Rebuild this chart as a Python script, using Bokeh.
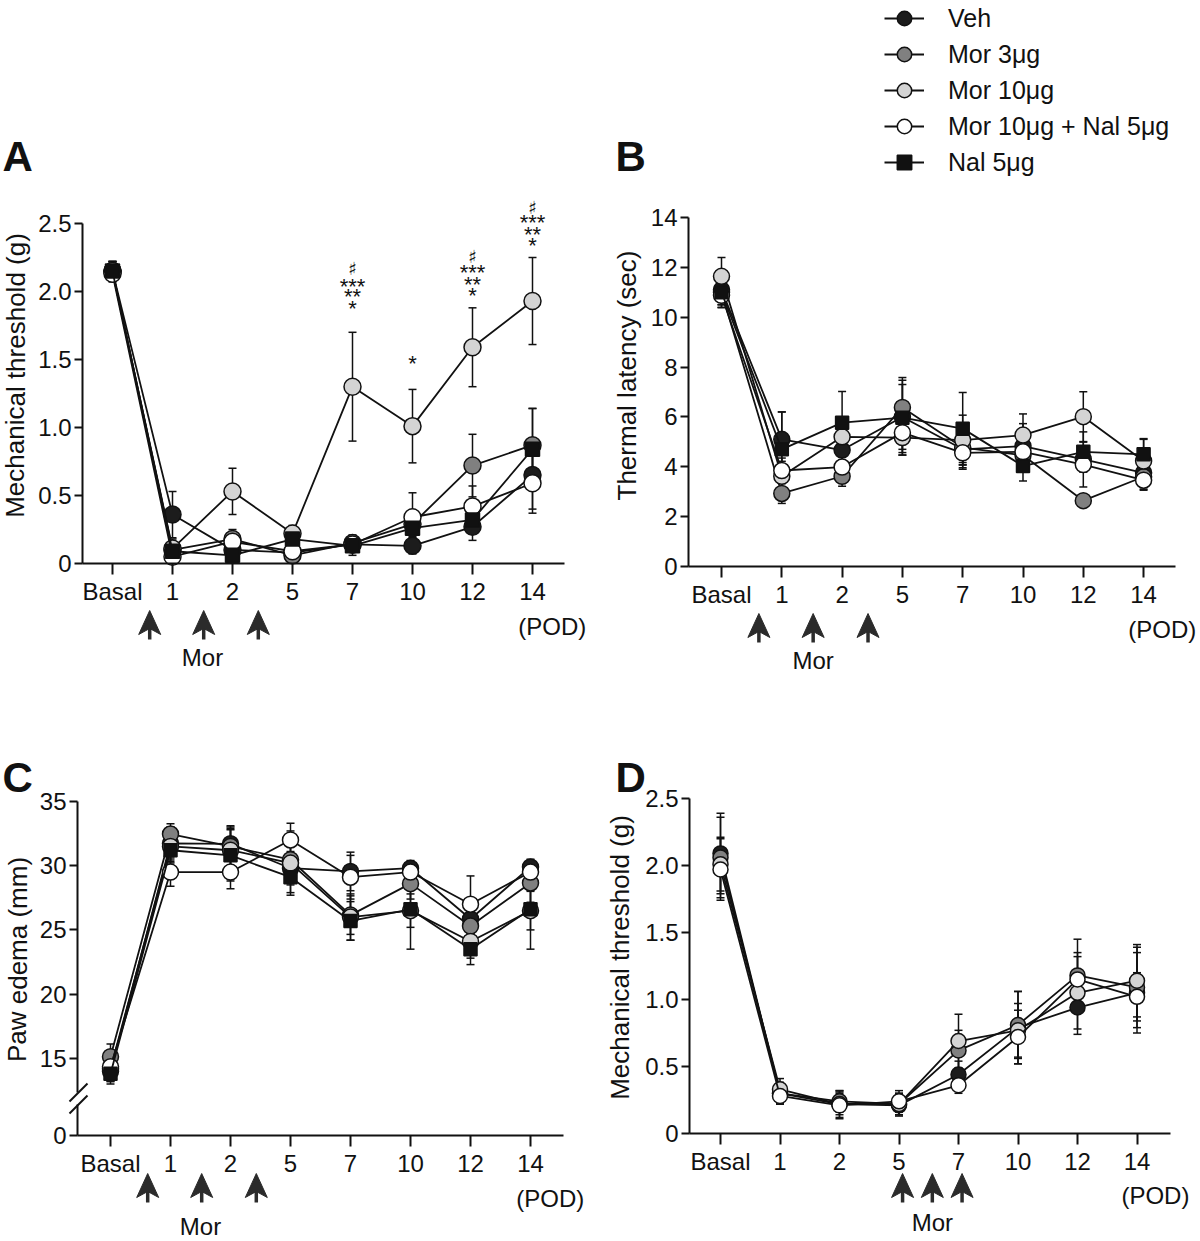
from bokeh.plotting import figure
from bokeh.layouts import row, column
from bokeh.models import (ColumnDataSource, FixedTicker, Whisker, TeeHead, Label,
                          Arrow, Legend, LegendItem)
from bokeh.embed import file_html
from bokeh.resources import INLINE

FONT = "Liberation Sans"
INK = "#111111"
ARROW_INK = "#2b2b2b"

# ---------------- data ----------------
day_labels = ["Basal", "1", "2", "5", "7", "10", "12", "14"]
day_pos = [0, 1, 2, 3, 4, 5, 6, 7]
group_names = ["Veh", "Mor 3μg", "Mor 10μg", "Mor 10μg + Nal 5μg", "Nal 5μg"]

# Panel A: mechanical threshold (g)
a_veh = [2.15, 0.36, 0.10, 0.08, 0.14, 0.13, 0.27, 0.65]
a_mor3 = [2.15, 0.10, 0.18, 0.06, 0.15, 0.29, 0.72, 0.87]
a_mor10 = [2.15, 0.11, 0.53, 0.22, 1.30, 1.01, 1.59, 1.93]
a_mornal = [2.13, 0.05, 0.16, 0.09, 0.14, 0.34, 0.42, 0.59]
a_nal = [2.15, 0.09, 0.06, 0.18, 0.13, 0.26, 0.32, 0.84]
a_veh_sem = [0.07, 0.17, 0.05, 0.03, 0.05, 0.06, 0.10, 0.25]
a_mor3_sem = [0.07, 0.08, 0.07, 0.03, 0.06, 0.06, 0.23, 0.27]
a_mor10_sem = [0.07, 0.05, 0.17, 0.06, 0.40, 0.27, 0.29, 0.32]
a_mornal_sem = [0.06, 0.04, 0.06, 0.04, 0.05, 0.18, 0.15, 0.22]
a_nal_sem = [0.07, 0.05, 0.03, 0.05, 0.07, 0.06, 0.08, 0.30]

# significance marks in panel A
sig_day = [4, 4, 4, 4, 5, 6, 6, 6, 6, 7, 7, 7, 7]
sig_text = ["♯", "***", "**", "*", "*", "♯", "***", "**", "*", "♯", "***", "**", "*"]
sig_y = [2.184, 2.059, 1.985, 1.897, 1.489, 2.272, 2.162, 2.074, 1.993, 2.632, 2.529, 2.441, 2.360]

# Panel B: thermal latency (sec)
b_veh = [11.1, 5.10, 4.67, 6.00, 4.70, 4.83, 4.30, 3.76]
b_mor3 = [11.0, 2.93, 3.62, 6.38, 4.77, 4.46, 2.64, 3.60]
b_mor10 = [11.64, 3.62, 5.20, 5.17, 5.07, 5.27, 6.01, 4.23]
b_mornal = [10.88, 3.85, 3.99, 5.37, 4.56, 4.60, 4.09, 3.46]
b_nal = [11.0, 4.70, 5.77, 5.97, 5.53, 4.03, 4.60, 4.50]
b_veh_sem = [0.6, 1.1, 0.4, 1.3, 0.8, 0.9, 0.5, 0.4]
b_mor3_sem = [0.6, 0.4, 0.4, 1.2, 0.6, 0.6, 0.2, 0.5]
b_mor10_sem = [0.75, 0.6, 0.7, 0.7, 1.0, 0.85, 1.0, 0.9]
b_mornal_sem = [0.5, 0.5, 0.6, 0.8, 0.6, 0.6, 0.9, 0.4]
b_nal_sem = [0.5, 1.5, 1.25, 1.5, 1.45, 0.6, 0.8, 0.6]

# Panel C: paw edema (mm)
c_veh = [14.0, 31.73, 31.7, 29.8, 29.55, 29.8, 25.85, 29.9]
c_mor3 = [15.13, 32.46, 31.5, 30.46, 26.15, 28.6, 25.3, 28.65]
c_mor10 = [14.2, 31.5, 31.2, 30.2, 26.0, 26.5, 24.1, 26.5]
c_mornal = [14.35, 29.5, 29.5, 32.0, 29.1, 29.5, 27.0, 29.5]
c_nal = [13.8, 31.2, 30.8, 29.1, 25.7, 26.6, 23.5, 26.6]
c_veh_sem = [0.8, 1.3, 1.3, 1.3, 1.5, 0.6, 0.7, 0.6]
c_mor3_sem = [1.0, 0.8, 1.6, 1.5, 1.5, 1.2, 0.9, 1.5]
c_mor10_sem = [1.0, 1.2, 1.7, 2.5, 1.8, 1.3, 1.3, 1.5]
c_mornal_sem = [0.9, 1.1, 1.3, 1.3, 1.7, 0.6, 2.2, 0.8]
c_nal_sem = [0.8, 1.0, 2.0, 1.2, 1.5, 3.1, 1.2, 3.1]

# Panel D: mechanical threshold (g), morphine on POD 5-7
d_veh = [2.09, 0.30, 0.22, 0.21, 0.44, 0.79, 0.94, 1.05]
d_mor3 = [2.06, 0.30, 0.24, 0.22, 0.62, 0.81, 1.18, 1.09]
d_mor10 = [2.01, 0.33, 0.22, 0.22, 0.69, 0.77, 1.05, 1.14]
d_mornal = [1.97, 0.28, 0.21, 0.24, 0.36, 0.72, 1.15, 1.02]
d_veh_sem = [0.30, 0.08, 0.10, 0.08, 0.10, 0.27, 0.20, 0.30]
d_mor3_sem = [0.30, 0.08, 0.08, 0.08, 0.15, 0.25, 0.27, 0.30]
d_mor10_sem = [0.20, 0.08, 0.08, 0.08, 0.20, 0.20, 0.27, 0.27]
d_mornal_sem = [0.23, 0.06, 0.10, 0.08, 0.06, 0.20, 0.20, 0.18]

# morphine injection times (in day-axis units)
mor_early = [0.62, 1.52, 2.43]
mor_late = [3.06, 3.56, 4.06]

# ---------------- style ----------------
FILLS = ["#1c1c1c", "#808080", "#d4d4d4", "#ffffff", "#111111"]
MARKERS = ["circle", "circle", "circle", "circle", "square"]


def make_panel(fx, fy, W, H, basal_x, sp, ax_x, ax_end, ax_y, ppu, y0, ytop,
               yticks, yover, means, sems, msize):
    """fx, fy, W, H: figure box in page px; the frame fills the whole figure."""
    X = lambda px: (px - basal_x) / sp
    Y = lambda py: y0 + (ax_y - py) / ppu
    p = figure(width=W, height=H, x_range=(X(fx), X(fx + W)), y_range=(Y(fy + H), Y(fy)),
               output_backend="svg", toolbar_location=None, title_location=None,
               min_border_left=0, min_border_right=0, min_border_top=0, min_border_bottom=0)
    p.outline_line_color = None
    p.grid.visible = False
    xa = p.xaxis[0]
    ya = p.yaxis[0]
    xa.fixed_location = y0
    ya.fixed_location = X(ax_x)
    xa.bounds = (X(ax_x), X(ax_end))
    ya.bounds = (y0, ytop)
    xa.ticker = FixedTicker(ticks=day_pos)
    xa.major_label_overrides = {i: l for i, l in zip(day_pos, day_labels)}
    ya.ticker = FixedTicker(ticks=yticks)
    ya.major_label_overrides = yover
    for ax in (xa, ya):
        ax.axis_line_width = 2
        ax.axis_line_color = INK
        ax.major_tick_line_width = 2
        ax.major_tick_line_color = INK
        ax.major_tick_in = 0
        ax.minor_tick_line_color = None
        ax.major_label_text_font = FONT
        ax.major_label_text_font_size = "24px"
        ax.major_label_text_color = INK
    xa.major_tick_out = 11
    xa.major_label_standoff = 3
    ya.major_tick_out = 8
    ya.major_label_standoff = 3
    rends = []
    for k, (m, e) in enumerate(zip(means, sems)):
        src = ColumnDataSource(dict(x=day_pos, y=m,
                                    lo=[a - b for a, b in zip(m, e)],
                                    hi=[a + b for a, b in zip(m, e)]))
        p.add_layout(Whisker(source=src, base="x", upper="hi", lower="lo",
                             line_width=1.5, line_color=INK,
                             upper_head=TeeHead(size=8, line_width=1.5, line_color=INK),
                             lower_head=TeeHead(size=8, line_width=1.5, line_color=INK)))
        lr = p.line("x", "y", source=src, line_color=INK, line_width=1.8)
        sz = msize if MARKERS[k] == "circle" else msize - 3
        sr = p.scatter("x", "y", source=src, marker=MARKERS[k], size=sz,
                       fill_color=FILLS[k], line_color=INK, line_width=1.5)
        rends.append((lr, sr))
    return p, rends, X, Y


def text(p, x, y, t, size, align="center", baseline="middle", bold=False, angle=0, font=FONT):
    p.add_layout(Label(x=x, y=y, text=t, text_font=font, text_font_size=f"{size}px",
                       text_align=align, text_baseline=baseline, angle=angle,
                       text_font_style="bold" if bold else "normal", text_color=INK))


def arrows(p, xs, sp, Y, ax_y, tip):
    """Notched filled arrowheads with short shafts below the x axis."""
    hw = 11 / sp
    heads_x = [[x, x + hw, x, x - hw] for x in xs]
    heads_y = [[Y(ax_y + tip), Y(ax_y + tip + 24), Y(ax_y + tip + 18), Y(ax_y + tip + 24)]
               for _ in xs]
    p.segment(x0=xs, y0=[Y(ax_y + tip + 12)] * len(xs), x1=xs, y1=[Y(ax_y + tip + 29)] * len(xs),
              line_width=3.5, line_color=ARROW_INK)
    p.patches(heads_x, heads_y, fill_color=ARROW_INK, line_color=ARROW_INK, line_width=1)


def decorate(p, X, Y, sp, letter, lx, ly, title, tx, ty, ax_y, arrow_x, tip, mor_x, mor_dy,
             pod_x, pod_dy):
    text(p, X(lx), Y(ly), letter, 42, align="left", baseline="alphabetic", bold=True)
    text(p, X(tx), Y(ty), title, 26, angle=1.5707963)
    arrows(p, arrow_x, sp, Y, ax_y, tip)
    text(p, mor_x, Y(ax_y + mor_dy), "Mor", 24)
    text(p, pod_x, Y(ax_y + pod_dy), "(POD)", 24)


A_OVR = {0: "0", 0.5: "0.5", 1: "1.0", 1.5: "1.5", 2: "2.0", 2.5: "2.5"}

# ---------------- Panel A ----------------
pa, ra, XA, YA = make_panel(0, 0, 596, 690, 112, 60, 82, 564, 563, 136.0, 0, 2.5,
                            [0, 0.5, 1, 1.5, 2, 2.5], A_OVR,
                            [a_veh, a_mor3, a_mor10, a_mornal, a_nal],
                            [a_veh_sem, a_mor3_sem, a_mor10_sem, a_mornal_sem, a_nal_sem], 17)
for d, t, y in zip(sig_day, sig_text, sig_y):
    if t == "♯":
        text(pa, d, y - 2 / 136.0, t, 18, baseline="alphabetic", font="DejaVu Sans")
    else:
        text(pa, d, y - 3 / 136.0, t, 22, baseline="alphabetic")
decorate(pa, XA, YA, 60, "A", 2, 156, "Mechanical threshold (g)", 15, 375, 563,
         mor_early, 47, 1.5, 94, 7.33, 63)

# ---------------- Panel B ----------------
pb, rb, XB, YB = make_panel(596, 0, 602, 690, 721, 60.3, 688, 1175, 566, 24.93, 0, 14,
                            [0, 2, 4, 6, 8, 10, 12, 14], {},
                            [b_veh, b_mor3, b_mor10, b_mornal, b_nal],
                            [b_veh_sem, b_mor3_sem, b_mor10_sem, b_mornal_sem, b_nal_sem], 16)
decorate(pb, XB, YB, 60.3, "B", 615, 156, "Thermal latency (sec)", 626, 375, 566,
         mor_early, 47, 1.52, 94, 7.31, 63)

legend = Legend(items=[LegendItem(label=n, renderers=[lr, sr]) for n, (lr, sr) in zip(group_names, rb)],
                location=(288, 510), label_text_font=FONT, label_text_font_size="25px",
                label_text_color=INK, glyph_width=40, glyph_height=36, label_height=20,
                label_standoff=24, spacing=0, padding=0, margin=0,
                border_line_color=None, background_fill_alpha=0)
pb.add_layout(legend)

# ---------------- Panel C ----------------
C0 = 9.0
pc, rc, XC, YC = make_panel(0, 690, 596, 549, 110, 60, 77, 563, 1135, 12.85, C0, 35,
                            [C0, 15, 20, 25, 30, 35], {C0: "0"},
                            [c_veh, c_mor3, c_mor10, c_mornal, c_nal],
                            [c_veh_sem, c_mor3_sem, c_mor10_sem, c_mornal_sem, c_nal_sem], 16)
pc.yaxis[0].axis_line_color = None
xc_ax = XC(77)
for py0, py1 in ((1135, 1104), (1092, None)):
    pc.add_layout(Arrow(x_start=xc_ax, y_start=YC(py0), x_end=xc_ax,
                        y_end=35 if py1 is None else YC(py1), end=None,
                        line_width=2, line_color=INK))
for pyc in (1104, 1092):
    pc.add_layout(Arrow(x_start=XC(69), y_start=YC(pyc + 9), x_end=XC(87), y_end=YC(pyc - 9),
                        end=None, line_width=2, line_color=INK))
decorate(pc, XC, YC, 60, "C", 2, 777, "Paw edema (mm)", 17, 959, 1135,
         mor_early, 38, 1.5, 91, 7.33, 63)

# ---------------- Panel D ----------------
pd_, rd, XD, YD = make_panel(596, 690, 602, 549, 720, 59.5, 689, 1170, 1133, 134.0, 0, 2.5,
                             [0, 0.5, 1, 1.5, 2, 2.5], A_OVR,
                             [d_veh, d_mor3, d_mor10, d_mornal],
                             [d_veh_sem, d_mor3_sem, d_mor10_sem, d_mornal_sem], 15)
decorate(pd_, XD, YD, 59.5, "D", 615, 777, "Mechanical threshold (g)", 619, 957, 1133,
         mor_late, 40, 3.56, 89, 7.31, 62)

layout = column(row(pa, pb), row(pc, pd_))
open("out.html", "w").write(file_html(layout, INLINE))
